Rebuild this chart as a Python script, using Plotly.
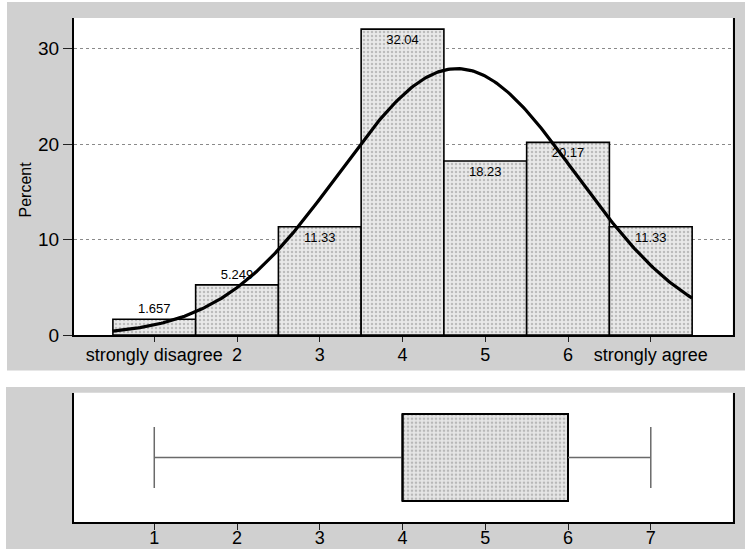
import numpy as np
import plotly.graph_objects as go

# ---- data ----
categories = [1, 2, 3, 4, 5, 6, 7]
tick_labels = ["strongly disagree", "2", "3", "4", "5", "6", "strongly agree"]
percent = [1.657, 5.249, 11.33, 32.04, 18.23, 20.17, 11.33]
label_pos = ["outside", "outside", "inside", "inside", "inside", "inside", "inside"]
y_ticks = [0, 10, 20, 30]

# fitted normal curve parameters (from the distribution)
fit_mean = 4.658
fit_sd = 1.43

# box plot summary
box_stats = {"lowerfence": 1, "q1": 4, "median": 4, "q3": 6, "upperfence": 7}
box_ticks = [1, 2, 3, 4, 5, 6, 7]

# ---- styles ----
W, H = 745, 549
GRAY = "#d0d0d0"
FONT = "Liberation Sans, Arial, sans-serif"
BOX_W = 0.67
CAP_H = 0.47

def px_x(p):
    return p / W

def px_y(p):
    return 1 - p / H

fig = go.Figure()

# histogram bars
fig.add_trace(go.Bar(
    x=categories, y=percent, width=1.0,
    text=[f"{v:g}" for v in percent],
    textposition=label_pos,
    insidetextanchor="end",
    textfont=dict(family=FONT, size=13, color="black"),
    outsidetextfont=dict(family=FONT, size=13, color="black"),
    insidetextfont=dict(family=FONT, size=13, color="black"),
    constraintext="none",
    marker=dict(color="#e2e2e2",
                line=dict(color="black", width=1.6),
                pattern=dict(shape=".", fgcolor="#8e8e8e", bgcolor="#e9e9e9",
                             size=4, solidity=0.3)),
    cliponaxis=False,
    xaxis="x", yaxis="y", showlegend=False, hoverinfo="skip",
))

# normal density curve scaled to percent (bin width 1)
xs = np.linspace(categories[0] - 0.5, categories[-1] + 0.5, 300)
ys = 100.0 / (fit_sd * np.sqrt(2 * np.pi)) * np.exp(-0.5 * ((xs - fit_mean) / fit_sd) ** 2)
fig.add_trace(go.Scatter(x=xs, y=ys, mode="lines",
                         line=dict(color="black", width=3.2),
                         xaxis="x", yaxis="y", showlegend=False, hoverinfo="skip"))

# box (bar from q1 to q3)
q1, q3 = box_stats["q1"], box_stats["q3"]
lf, uf, med = box_stats["lowerfence"], box_stats["upperfence"], box_stats["median"]
fig.add_trace(go.Bar(
    x=[q3 - q1], base=[q1], y=[0], orientation="h", width=BOX_W,
    marker=dict(color="#dedede",
                line=dict(color="black", width=2),
                pattern=dict(shape=".", fgcolor="#8a8a8a", bgcolor="#e6e6e6",
                             size=4, solidity=0.35)),
    xaxis="x2", yaxis="y2", showlegend=False, hoverinfo="skip",
))
# whiskers and caps
fig.add_trace(go.Scatter(
    x=[lf, q1, None, q3, uf, None, lf, lf, None, uf, uf],
    y=[0, 0, None, 0, 0, None, -CAP_H / 2, CAP_H / 2, None, -CAP_H / 2, CAP_H / 2],
    mode="lines", line=dict(color="#6a6a6a", width=1.5),
    xaxis="x2", yaxis="y2", showlegend=False, hoverinfo="skip",
))
# median line
fig.add_trace(go.Scatter(
    x=[med, med], y=[-BOX_W / 2, BOX_W / 2], mode="lines",
    line=dict(color="black", width=2),
    xaxis="x2", yaxis="y2", showlegend=False, hoverinfo="skip",
))

xdom = [px_x(74), px_x(732.7)]

shapes = [
    # gray backgrounds
    dict(type="rect", xref="paper", yref="paper", x0=px_x(7), x1=1, y0=px_y(370.5), y1=px_y(2),
         fillcolor=GRAY, line=dict(width=0), layer="below"),
    dict(type="rect", xref="paper", yref="paper", x0=px_x(6), x1=1, y0=0, y1=px_y(387),
         fillcolor=GRAY, line=dict(width=0), layer="below"),
    # white plot areas
    dict(type="rect", xref="paper", yref="paper", x0=xdom[0], x1=xdom[1], y0=px_y(335), y1=px_y(18),
         fillcolor="white", line=dict(width=0), layer="below"),
    dict(type="rect", xref="paper", yref="paper", x0=xdom[0], x1=xdom[1], y0=px_y(522.3), y1=px_y(392.7),
         fillcolor="white", line=dict(width=0), layer="below"),
]

fig.update_layout(
    width=W, height=H,
    margin=dict(l=0, r=0, t=0, b=0, autoexpand=False),
    paper_bgcolor="white", plot_bgcolor="rgba(0,0,0,0)",
    font=dict(family=FONT, color="black"),
    barmode="overlay",
    shapes=shapes,
    xaxis=dict(domain=xdom, range=[0.03, 7.99], tickvals=categories, ticktext=tick_labels,
               ticks="outside", ticklen=5, tickwidth=1.2, tickcolor="#222",
               tickfont=dict(size=18), ticklabelstandoff=-3, showgrid=False, zeroline=False,
               showline=True, linecolor="black", linewidth=2, anchor="y", fixedrange=True,
               automargin=False),
    yaxis=dict(domain=[px_y(335), px_y(18)], range=[0, 33.2], tickvals=y_ticks,
               ticks="outside", ticklen=9, tickwidth=1.2, tickcolor="#222",
               tickfont=dict(size=19), showgrid=True, gridcolor="#8a8a8a", griddash="dot",
               gridwidth=1, zeroline=False, showline=True, linecolor="black", linewidth=2,
               mirror=True, anchor="x", fixedrange=True, automargin=False),
    xaxis2=dict(domain=xdom, range=[0.03, 7.99], tickvals=box_ticks,
                ticks="outside", ticklen=6, tickwidth=1.2, tickcolor="#222",
                tickfont=dict(size=18), ticklabelstandoff=-8, showgrid=False, zeroline=False,
                showline=True, linecolor="black", linewidth=2, anchor="y2", fixedrange=True,
                automargin=False),
    yaxis2=dict(domain=[px_y(522.3), px_y(392.7)], range=[-0.5, 0.5], showticklabels=False,
                ticks="", showgrid=False, zeroline=False, showline=True, linecolor="black",
                linewidth=2, mirror=True, anchor="x2", fixedrange=True, automargin=False),
    annotations=[dict(text="Percent", xref="paper", yref="paper", x=px_x(25), y=px_y(189.5),
                      textangle=-90, showarrow=False, font=dict(size=16),
                      xanchor="center", yanchor="middle")],
)

fig.write_html("out.html", config={"displayModeBar": False},
               post_script="document.body.style.margin='0';document.body.style.overflow='hidden';")
